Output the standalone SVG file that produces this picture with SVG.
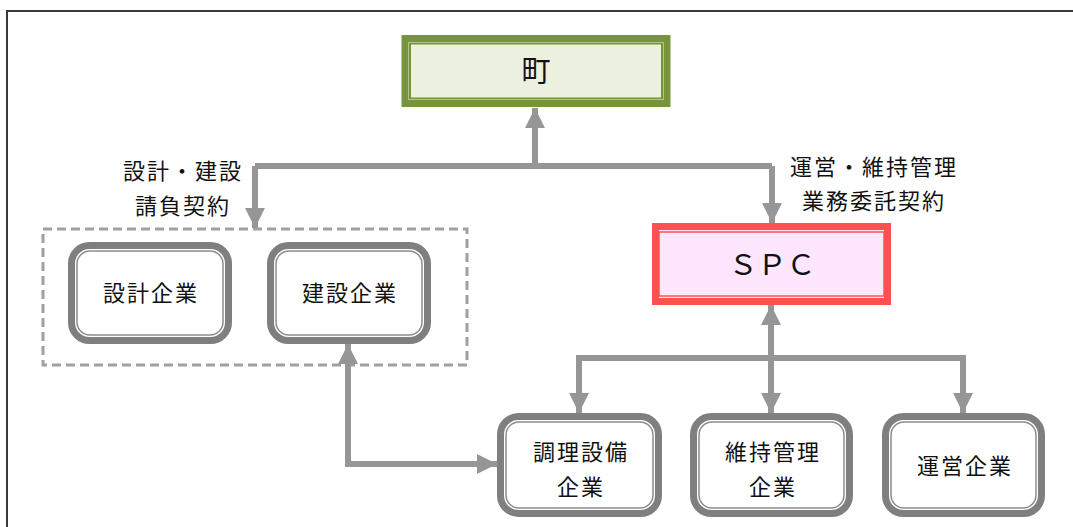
<svg xmlns="http://www.w3.org/2000/svg" width="1073" height="527" viewBox="0 0 1073 527">
<style>
text{font-family:"Noto Sans CJK JP","Noto Sans CJK SC",sans-serif;fill:#111;text-anchor:middle;dominant-baseline:central}
.lbl{font-size:22px;letter-spacing:2px}
.nt{font-size:22px;letter-spacing:2px}
.co{fill:none;stroke:#969696;stroke-width:6}
.nodeo{fill:#fff;stroke:#7f7f7f;stroke-width:7}
.nodei{fill:none;stroke:#8c8c8c;stroke-width:1.5}
</style>
<defs>
<marker id="ah" viewBox="0 0 10 10" refX="10" refY="5" markerWidth="3.4" markerHeight="3.4" markerUnits="strokeWidth" orient="auto-start-reverse">
<path d="M0,0 L10,5 L0,10 z" fill="#969696"/>
</marker>
</defs>
<rect width="1073" height="527" fill="#fff"/>
<path d="M7,527 V11 H1073" fill="none" stroke="#3a3a3a" stroke-width="2"/>

<g id="group-box">
<rect x="43" y="229" width="424" height="136" fill="none" stroke="#a0a0a0" stroke-width="3" stroke-dasharray="9,5"/>
</g>

<g id="connectors">
<path class="co" d="M535,108 V166 M255,166 H772 M255,166 V228 M772,166 V223" />
<path class="co" d="M535,160 V108" marker-end="url(#ah)"/>
<path class="co" d="M255,170 V228" marker-end="url(#ah)"/>
<path class="co" d="M772,170 V223" marker-end="url(#ah)"/>
<path class="co" d="M771,305 V413" marker-start="url(#ah)" marker-end="url(#ah)"/>
<path class="co" d="M579,413 V358 H963 V413" marker-start="url(#ah)" marker-end="url(#ah)"/>
<path class="co" d="M348,344 V464 H497" marker-start="url(#ah)" marker-end="url(#ah)"/>
</g>

<g id="node-town">
<rect x="405" y="38.5" width="262" height="65" fill="#ebf1de" stroke="#77933c" stroke-width="7"/>
<rect x="410" y="43.5" width="252" height="55" fill="none" stroke="#77933c" stroke-width="2"/>
<text x="536" y="69" style="font-size:29px">町</text>
</g>

<g id="node-spc">
<rect x="655.5" y="226.5" width="232" height="75" fill="#ffe6ff" stroke="#ff5050" stroke-width="7"/>
<rect x="659" y="232" width="225" height="64" fill="none" stroke="#ff5050" stroke-width="1.5"/>
<text x="772" y="262" style="font-size:29px">ＳＰＣ</text>
</g>

<text class="lbl" x="183" y="169">設計・建設</text>
<text class="lbl" x="183" y="204">請負契約</text>
<text class="lbl" x="874" y="165">運営・維持管理</text>
<text class="lbl" x="874" y="199">業務委託契約</text>

<g id="node-design">
<rect class="nodeo" x="71.5" y="245.5" width="157" height="95" rx="18"/>
<rect class="nodei" x="77" y="251" width="146" height="84" rx="13"/>
<text class="nt" x="151" y="291">設計企業</text>
</g>

<g id="node-construction">
<rect class="nodeo" x="270.5" y="245.5" width="157" height="95" rx="18"/>
<rect class="nodei" x="276" y="251" width="146" height="84" rx="13"/>
<text class="nt" x="350" y="291">建設企業</text>
</g>

<g id="node-kitchen">
<rect class="nodeo" x="500.5" y="416.5" width="158" height="97" rx="18"/>
<rect class="nodei" x="506" y="422" width="147" height="86" rx="13"/>
<text class="nt" x="581" y="450">調理設備</text>
<text class="nt" x="581" y="485">企業</text>
</g>

<g id="node-maintenance">
<rect class="nodeo" x="693.5" y="416.5" width="156" height="97" rx="18"/>
<rect class="nodei" x="699" y="422" width="145" height="86" rx="13"/>
<text class="nt" x="773" y="450">維持管理</text>
<text class="nt" x="773" y="485">企業</text>
</g>

<g id="node-operation">
<rect class="nodeo" x="885.5" y="416.5" width="156" height="97" rx="18"/>
<rect class="nodei" x="891" y="422" width="145" height="86" rx="13"/>
<text class="nt" x="965" y="464">運営企業</text>
</g>
</svg>
